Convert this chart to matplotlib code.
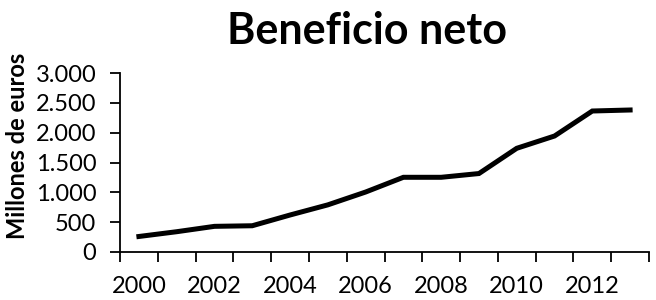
import matplotlib
matplotlib.use("Agg")
import matplotlib.pyplot as plt
from matplotlib.ticker import FuncFormatter, FixedLocator

# data
years = list(range(2000, 2014))
profit = [260, 340, 430, 440, 620, 790, 1005, 1252, 1252, 1315, 1738, 1944, 2363, 2380]
year_labels = [str(y) if y % 2 == 0 else "" for y in years]

plt.rcParams['font.family'] = ['Lato', 'DejaVu Sans']

fig = plt.figure(figsize=(6.56, 3.0), dpi=100)
ax = fig.add_axes([120 / 656, 1 - 252 / 300, 529 / 656, 179 / 300])

x = list(range(len(years)))
ax.plot(x, profit, color='black', linewidth=3.6, solid_joinstyle='miter')

ax.set_xlim(-0.5, len(years) - 0.5)
ax.set_ylim(0, 3000)
ax.set_yticks(range(0, 3001, 500))
ax.yaxis.set_major_formatter(FuncFormatter(lambda v, p: f"{int(v):,}".replace(",", ".")))

# tick marks between categories, labels centred on categories
ax.xaxis.set_major_locator(FixedLocator([i - 0.5 for i in range(len(years) + 1)]))
ax.xaxis.set_minor_locator(FixedLocator(x))
ax.set_xticklabels([""] * (len(years) + 1))
ax.set_xticklabels(year_labels, minor=True)
ax.tick_params(axis='x', which='major', direction='out', length=7, width=1.3)
ax.tick_params(axis='x', which='minor', length=0, pad=17, labelsize=17)
ax.tick_params(axis='y', direction='out', length=7, width=1.3, labelsize=17, pad=10)

for side in ['top', 'right']:
    ax.spines[side].set_visible(False)
for side in ['left', 'bottom']:
    ax.spines[side].set_linewidth(1.3)

fig.text(367 / 656, 1 - 31 / 300, "Beneficio neto", ha='center', va='center',
         fontsize=31, fontweight='bold')
fig.text(18 / 656, 1 - 146 / 300, "Millones de euros", ha='center', va='center',
         rotation=90, fontsize=17, fontweight='bold')

plt.savefig('out.png', dpi=100)
